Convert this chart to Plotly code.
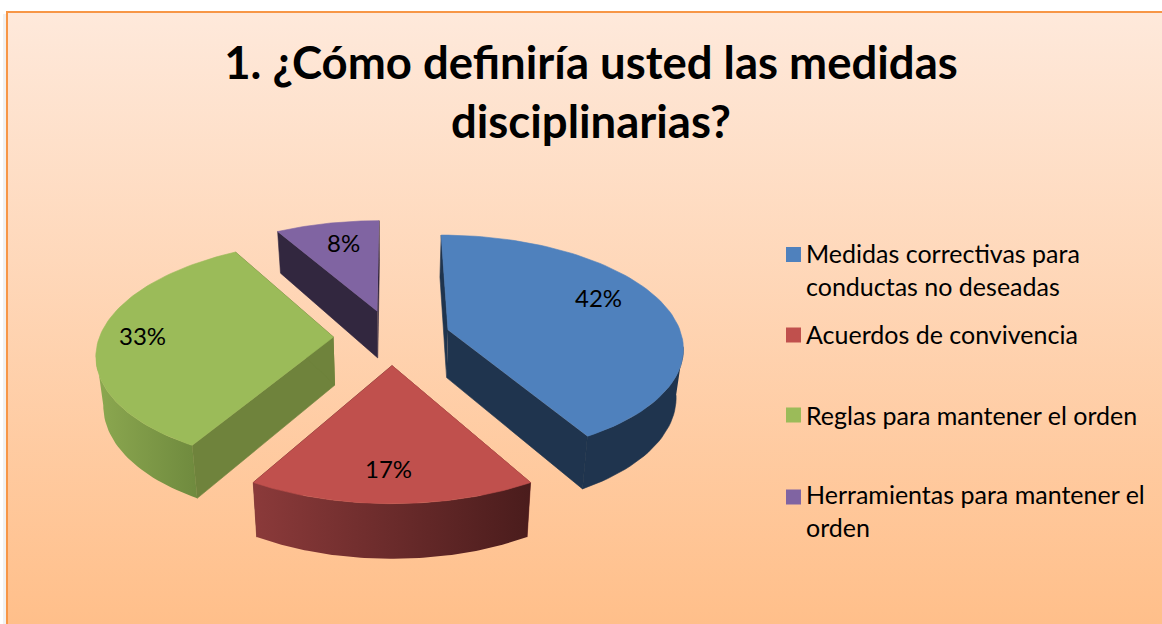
import numpy as np
import plotly.graph_objects as go

categories = ["Medidas correctivas para<br>conductas no deseadas", "Acuerdos de convivencia",
              "Reglas para mantener el orden", "Herramientas para mantener el<br>orden"]
values = [41.67, 16.67, 33.33, 8.33]
title_text = "1. ¿Cómo definiría usted las medidas<br>disciplinarias?"

top_colors = ["#4F81BD", "#C0504D", "#9BBB59", "#8064A2"]
spoke_colors = ["#1F344E", "#6E2B2A", "#6F833C", "#32273F"]
wall_grad = [None, ("#8B3A3A", "#4A1C1C"), ("#8CA850", "#6F8A3E"), None]
label_pos = [(598, 297), (388, 468), (142, 335), (343, 242)]
legend_y = [254.5, 335, 415, 497]
legend_text_y = [269.5, 333.5, 414.5, 510.5]

W, H = 1162, 624
CX, CY, RX, RY, K, PULL = 392, 337, 234, 110, 0.14, 0.25
DEPTH, SHRINK = 48, 0.975
FONT = "Lato"


def project(U, V, bottom=False):
    s = 1 / (1 - K * V)
    x = CX + RX * U * s
    y = CY + RY * V * s
    if bottom:
        x = CX + (x - CX) * SHRINK
        y = y + DEPTH * (1 + 0.12 * V)
    return x, y


fig = go.Figure()


def poly(x, y, color=None, grad=None):
    kw = dict(x=list(x), y=list(y), mode="lines", fill="toself", hoverinfo="skip", showlegend=False)
    if grad:
        kw["line"] = dict(width=0)
        kw["fillgradient"] = dict(type="horizontal", colorscale=[[0, grad[0]], [1, grad[1]]])
    else:
        kw["line"] = dict(width=0.6, color=color)
        kw["fillcolor"] = color
    fig.add_trace(go.Scatter(**kw))


# background
fig.add_trace(go.Scatter(x=[7, W, W, 7, 7], y=[12, 12, H, H, 12], mode="lines", line=dict(width=0),
                         fill="toself", hoverinfo="skip", showlegend=False,
                         fillgradient=dict(type="vertical", start=12, stop=H,
                                           colorscale=[[0, "#FEE9DB"], [1, "#FFBF8A"]])))

total = sum(values)
edges = np.cumsum([0] + values) / total * 2 * np.pi
slices = []
for i in range(len(values)):
    a0, a1 = edges[i], edges[i + 1]
    mid = (a0 + a1) / 2
    ox, oy = PULL * np.sin(mid), -PULL * np.cos(mid)
    th = np.linspace(a0, a1, 80)
    slices.append((oy, i, ox, oy, th))

for _, i, ox, oy, th in sorted(slices, key=lambda t: t[0]):
    U = ox + np.sin(th)
    V = oy - np.cos(th)
    tx, ty = project(U, V)
    bx, by = project(U, V, True)
    ax, ay = project(np.array([ox]), np.array([oy]))
    abx, aby = project(np.array([ox]), np.array([oy]), True)
    # spoke walls
    poly([ax[0], tx[0], bx[0], abx[0]], [ay[0], ty[0], by[0], aby[0]], spoke_colors[i])
    poly([ax[0], tx[-1], bx[-1], abx[0]], [ay[0], ty[-1], by[-1], aby[0]], spoke_colors[i])
    # rim wall
    vis = (V - oy) > 0.12
    if vis.any():
        poly(np.r_[tx[vis], bx[vis][::-1]], np.r_[ty[vis], by[vis][::-1]],
             color=spoke_colors[i], grad=wall_grad[i])
    # top
    poly(np.r_[ax, tx], np.r_[ay, ty], top_colors[i])

# soft shadow and frame
fig.add_trace(go.Scatter(x=[4.5, 4.5], y=[14, H], mode="lines", line=dict(color="#F1F1F1", width=3),
                         hoverinfo="skip", showlegend=False))
fig.add_trace(go.Scatter(x=[7, 7, W], y=[H, 12, 12], mode="lines", line=dict(color="#F79646", width=2),
                         hoverinfo="skip", showlegend=False))

# legend markers
fig.add_trace(go.Scatter(x=[793.5] * 4, y=legend_y, mode="markers",
                         marker=dict(symbol="square", size=15, color=top_colors), hoverinfo="skip",
                         showlegend=False))

ann = []
for v, (x, y) in zip(values, label_pos):
    ann.append(dict(x=x, y=y, text=f"{round(v)}%", showarrow=False, xanchor="center", yanchor="middle",
                    font=dict(family=FONT, size=24, color="black")))
for c, y in zip(categories, legend_text_y):
    ann.append(dict(x=804, y=y, text=c, showarrow=False, xanchor="left", yanchor="middle", align="left",
                    font=dict(family=FONT, size=25, color="black")))

fig.update_layout(
    width=W, height=H, autosize=False, margin=dict(l=0, r=0, t=0, b=0),
    paper_bgcolor="white", plot_bgcolor="rgba(0,0,0,0)", showlegend=False,
    title=dict(text=title_text, x=591 / W, xanchor="center", y=1 - 79 / H, yanchor="middle",
               font=dict(family=FONT, size=45.5, color="black", weight="bold")),
    xaxis=dict(range=[0, W], visible=False, fixedrange=True),
    yaxis=dict(range=[H, 0], visible=False, fixedrange=True),
    annotations=ann,
)
fig.write_html("out.html", config=dict(displayModeBar=False),
               post_script="document.body.style.margin='0';document.body.style.overflow='hidden';")
